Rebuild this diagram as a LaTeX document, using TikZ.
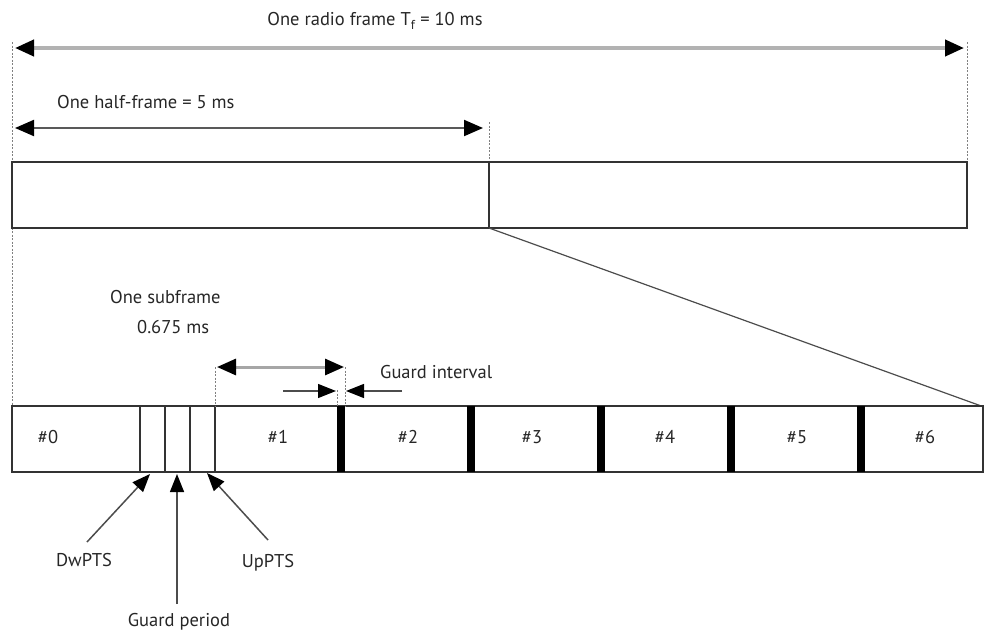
\documentclass[tikz,border=0pt]{standalone}
\usepackage{fontspec}
\setmainfont{PT Sans}
\usetikzlibrary{arrows.meta}
\begin{document}
\begin{tikzpicture}[x=1pt,y=-1pt,
  lbl/.style={font=\fontsize{18.5}{22}\selectfont, text=black!85, inner sep=0pt},
  dimarrow/.style={{Triangle[length=19pt,width=16pt,color=black]}-{Triangle[length=19pt,width=16pt,color=black]}},
  onetip/.style={-{Triangle[length=18pt,width=14pt,color=black]}},
  guide/.style={draw=black!50, line width=0.8pt, dash pattern=on 2pt off 1.5pt},
  framebox/.style={draw=black!80, line width=1.8pt},
  thin/.style={draw=black!80, line width=1.5pt},
  gbar/.style={fill=black, draw=none}]
\useasboundingbox (0,0) rectangle (984,635);

% guides
\coordinate (gl1) at (12,42);   \coordinate (gl2) at (12,406);
\coordinate (gr1) at (967,42);  \coordinate (gr2) at (967,162);
\coordinate (gm1) at (489,122); \coordinate (gm2) at (489,162);
\draw[guide] (gl1) -- (gl2);
\draw[guide] (gr1) -- (gr2);
\draw[guide] (gm1) -- (gm2);

% radio frame arrow
\node[lbl] (tf) at (375,21) {One radio frame T\textsubscript{f} = 10 ms};
\coordinate (ta) at (15,48); \coordinate (tb) at (964,48);
\draw[dimarrow, draw=black!30, line width=4pt] (ta) -- (tb);

% half frame arrow
\node[lbl, anchor=west] (hf) at (57,102) {One half-frame = 5 ms};
\coordinate (ha) at (15,128); \coordinate (hb) at (483,128);
\draw[dimarrow, draw=black!65, line width=2pt] (ha) -- (hb);

% frame box
\draw[framebox] (12,162) rectangle (967,228);
\coordinate (d1) at (489,162); \coordinate (d2) at (489,228);
\draw[framebox] (d1) -- (d2);
\coordinate (z2) at (984,407);
\draw[draw=black!70, line width=1.2pt] (d2) -- (z2);

% subframe row
\draw[framebox] (12,406) rectangle (983,472);
\foreach \x in {140,165,190,215} \draw[thin] (\x,406) -- (\x,472);
\foreach \x in {337,467,597,727,857} \fill[gbar] (\x,406) rectangle (\x+8,472);

\node[lbl] (s0) at (48,437) {\#0};
\node[lbl] (s1) at (278,437) {\#1};
\node[lbl] (s2) at (408,437) {\#2};
\node[lbl] (s3) at (532,437) {\#3};
\node[lbl] (s4) at (665,437) {\#4};
\node[lbl] (s5) at (797,437) {\#5};
\node[lbl] (s6) at (925,437) {\#6};

% subframe label and arrow
\node[lbl, anchor=west] (os) at (110,297) {One subframe};
\node[lbl, anchor=west] (om) at (137,327) {0.675 ms};
\coordinate (sa) at (217,367); \coordinate (sb) at (344,367);
\draw[dimarrow, draw=black!35, line width=3pt] (sa) -- (sb);
\coordinate (v1a) at (215,367); \coordinate (v1b) at (215,406);
\coordinate (v2a) at (345,367); \coordinate (v2b) at (345,406);
\coordinate (v3a) at (337,390); \coordinate (v3b) at (337,406);
\draw[guide] (v1a) -- (v1b);
\draw[guide] (v2a) -- (v2b);
\draw[guide] (v3a) -- (v3b);

% guard interval
\node[lbl, anchor=west] (gi) at (380,372) {Guard interval};
\coordinate (g1a) at (283,391); \coordinate (g1b) at (336,391);
\coordinate (g2a) at (402,391); \coordinate (g2b) at (346,391);
\draw[onetip, draw=black!70, line width=1.3pt] (g1a) -- (g1b);
\draw[onetip, draw=black!70, line width=1.3pt] (g2a) -- (g2b);

% bottom labels
\node[lbl] (dw) at (84,560) {DwPTS};
\node[lbl] (gp) at (179,622) {Guard period};
\node[lbl] (up) at (268,563) {UpPTS};
\coordinate (dwa) at (87,542);  \coordinate (dwb) at (150,474);
\coordinate (gpa) at (177,604); \coordinate (gpb) at (177,474);
\coordinate (upa) at (268,540); \coordinate (upb) at (207,473);
\draw[onetip, draw=black!70, line width=1.5pt] (dwa) -- (dwb);
\draw[onetip, draw=black!70, line width=1.5pt] (gpa) -- (gpb);
\draw[onetip, draw=black!70, line width=1.5pt] (upa) -- (upb);
\end{tikzpicture}
\end{document}
